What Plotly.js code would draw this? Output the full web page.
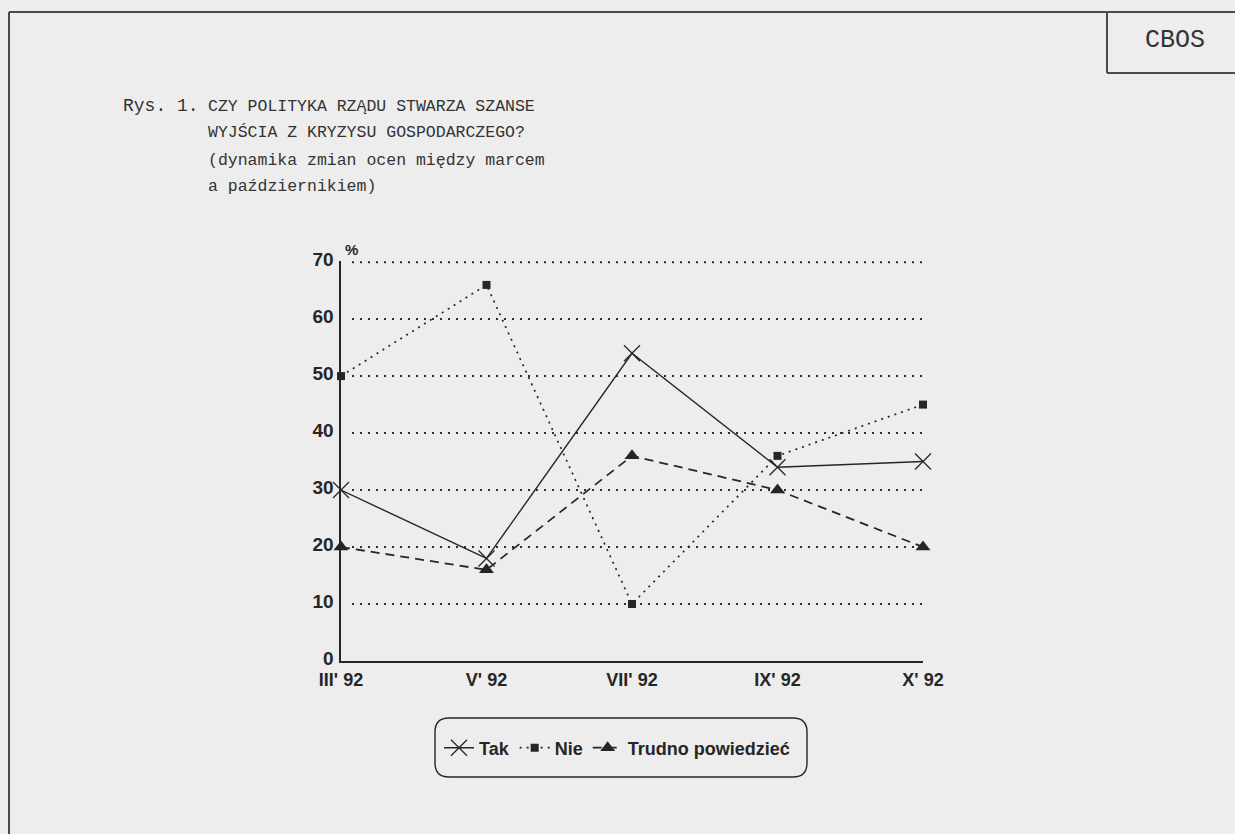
<!DOCTYPE html>
<html>
<head>
<meta charset="utf-8">
<script src="https://cdn.plot.ly/plotly-3.0.1.min.js"></script>
<style>
html,body{margin:0;padding:0;background:#ededed;}
#chart{width:1235px;height:834px;}
</style>
</head>
<body>
<div id="chart"></div>
<script>
// ---- data ----
const categories = ["III' 92", "V' 92", "VII' 92", "IX' 92", "X' 92"];
const tak = [30, 18, 54, 34, 35];
const nie = [50, 66, 10, 36, 45];
const trudno = [20, 16, 36, 30, 20];
const seriesNames = ["Tak", "Nie", "Trudno powiedzieć"];
const yTicks = [0, 10, 20, 30, 40, 50, 60, 70];
const titleLines = [
  "CZY POLITYKA RZĄDU STWARZA SZANSE",
  "WYJŚCIA Z KRYZYSU GOSPODARCZEGO?",
  "(dynamika zmian ocen między marcem",
  "a październikiem)"
];

// ---- layout helpers (pixel -> paper) ----
const W = 1235, H = 834;
const M = {l: 341, r: 312, t: 261, b: 173};
const PW = W - M.l - M.r, PH = H - M.t - M.b;
const px = x => (x - M.l) / PW;
const py = y => (H - M.b - y) / PH;

const ink = '#262626';
const sansBold = 'Liberation Sans, Arial, sans-serif';
const mono = 'Liberation Mono, Courier New, monospace';

const traces = [
  {x: categories, y: tak, name: seriesNames[0], type: 'scatter', mode: 'lines+markers',
   line: {color: ink, width: 1.4},
   marker: {symbol: 'x-thin', size: 16, line: {color: ink, width: 1.3}, color: ink},
   cliponaxis: false},
  {x: categories, y: nie, name: seriesNames[1], type: 'scatter', mode: 'lines+markers',
   line: {color: ink, width: 1.7, dash: '2px,5px'},
   marker: {symbol: 'square', size: 8, color: ink},
   cliponaxis: false},
  {x: categories, y: trudno, name: seriesNames[2], type: 'scatter', mode: 'lines+markers',
   line: {color: ink, width: 1.8, dash: '9px,6px'},
   marker: {symbol: 'triangle-up', size: 13, color: ink},
   cliponaxis: false}
];

function roundRect(x0, y0, x1, y1, r) {
  const X = v => px(v), Y = v => py(v);
  return `M ${X(x0 + r)} ${Y(y0)} L ${X(x1 - r)} ${Y(y0)} Q ${X(x1)} ${Y(y0)} ${X(x1)} ${Y(y0 + r)} ` +
         `L ${X(x1)} ${Y(y1 - r)} Q ${X(x1)} ${Y(y1)} ${X(x1 - r)} ${Y(y1)} ` +
         `L ${X(x0 + r)} ${Y(y1)} Q ${X(x0)} ${Y(y1)} ${X(x0)} ${Y(y1 - r)} ` +
         `L ${X(x0)} ${Y(y0 + r)} Q ${X(x0)} ${Y(y0)} ${X(x0 + r)} ${Y(y0)} Z`;
}

const frameLine = {color: '#4a4a4a', width: 2};
const shapes = [
  {type: 'line', xref: 'paper', yref: 'paper', x0: px(9), x1: px(1240), y0: py(12), y1: py(12), line: frameLine},
  {type: 'line', xref: 'paper', yref: 'paper', x0: px(9), x1: px(9), y0: py(12), y1: py(840), line: frameLine},
  {type: 'line', xref: 'paper', yref: 'paper', x0: px(1107), x1: px(1107), y0: py(12), y1: py(73), line: frameLine},
  {type: 'line', xref: 'paper', yref: 'paper', x0: px(1107), x1: px(1240), y0: py(73), y1: py(73), line: frameLine},
  {type: 'path', xref: 'paper', yref: 'paper', path: roundRect(435, 718, 807, 777, 14),
   line: {color: ink, width: 1.4}, fillcolor: 'rgba(0,0,0,0)'}
];
// dotted horizontal gridlines (start a little right of the axis, as in the reference)
yTicks.filter(v => v > 0).forEach(v => {
  shapes.push({type: 'line', xref: 'paper', yref: 'y', x0: px(352), x1: 1, y0: v, y1: v,
    line: {color: '#2e2e2e', width: 2, dash: '2px,6px'}, layer: 'below'});
});

const annotations = [
  {xref: 'paper', yref: 'paper', x: px(1175), y: py(41), xanchor: 'center', yanchor: 'middle', showarrow: false,
   text: 'CBOS', font: {family: mono, size: 25, color: '#333'}},
  {xref: 'paper', yref: 'paper', x: px(121), y: py(106), xanchor: 'left', yanchor: 'middle', showarrow: false,
   text: 'Rys. 1.', font: {family: mono, size: 18, color: '#333'}},
  {xref: 'paper', yref: 'paper', x: px(351), y: py(250), xanchor: 'center', yanchor: 'middle', showarrow: false,
   text: '%', font: {family: sansBold, size: 15, color: ink, weight: 'bold'}}
];
const lineY = [106, 133, 160, 187];
titleLines.forEach((t, i) => {
  annotations.push({xref: 'paper', yref: 'paper', x: px(206), y: py(lineY[i]), xanchor: 'left', yanchor: 'middle',
    showarrow: false, text: t, font: {family: mono, size: 16.5, color: '#333'}});
});

const layout = {
  width: W, height: H,
  margin: M,
  paper_bgcolor: '#ededed', plot_bgcolor: '#ededed',
  showlegend: true,
  legend: {orientation: 'h', x: px(617), xanchor: 'center', y: py(748), yanchor: 'middle',
    bgcolor: 'rgba(0,0,0,0)', borderwidth: 0, itemwidth: 30,
    font: {family: sansBold, size: 18, color: ink, weight: 'bold'}},
  xaxis: {type: 'category', range: [0, 4], showgrid: false, zeroline: false,
    showline: true, linecolor: ink, linewidth: 1.6, ticks: '', ticklabelstandoff: 2,
    tickfont: {family: sansBold, size: 18, color: ink, weight: 'bold'}, fixedrange: true},
  yaxis: {range: [0, 70.2], tickvals: yTicks, ticktext: yTicks.map(String),
    showgrid: false, zeroline: false, showline: true, linecolor: ink, linewidth: 1.6, ticks: '',
    ticklabelshift: -3, ticklabelstandoff: 2,
    tickfont: {family: sansBold, size: 19, color: ink, weight: 'bold'}, fixedrange: true},
  shapes: shapes,
  annotations: annotations
};

Plotly.newPlot('chart', traces, layout, {displayModeBar: false, staticPlot: true});
</script>
</body>
</html>
